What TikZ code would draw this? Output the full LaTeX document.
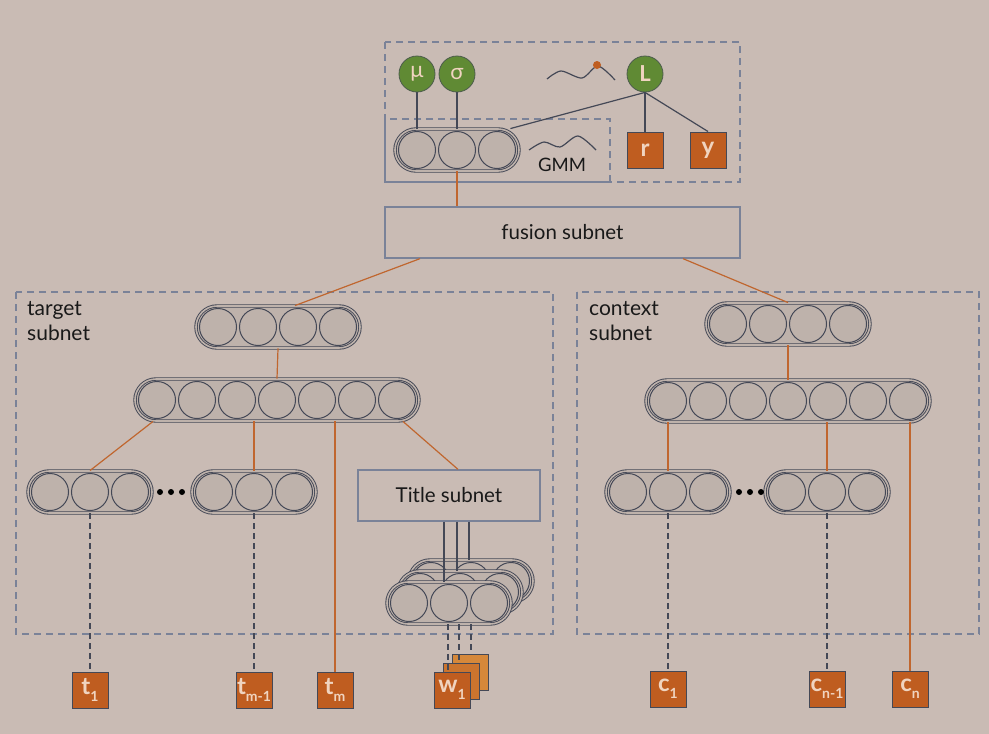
\documentclass[tikz,border=0pt]{standalone}
\usepackage{fontspec}
\setmainfont{Lato}
\usetikzlibrary{shapes.misc}

\definecolor{bg}{RGB}{201,187,180}
\definecolor{unitfill}{RGB}{190,178,171}
\definecolor{wire}{RGB}{68,72,86}
\definecolor{frame}{RGB}{122,130,152}
\definecolor{rust}{RGB}{191,93,32}
\definecolor{rustmid}{RGB}{203,116,46}
\definecolor{rustlight}{RGB}{214,136,58}
\definecolor{leaf}{RGB}{96,138,52}
\definecolor{peach}{RGB}{240,212,192}

% a layer of units: name, x, y, number of units
\newcommand{\layer}[4]{%
  \node[capsule, minimum width=#4*40+4] (#1) at (#2,#3) {};
  \foreach \k in {1,...,#4}
    \node[unit] (#1-\k) at ({#2+(\k-(#4+1)/2)*40},#3) {};
}
\newcommand{\lowidx}[1]{\raisebox{-0.55ex}{\fontsize{14}{14}\selectfont #1}}

\begin{document}
\begin{tikzpicture}[x=1pt, y=-1pt,
  capsule/.style={rounded rectangle, draw=wire, line width=0.9pt, double=unitfill,
    double distance=1.6pt, fill=unitfill, minimum height=42, inner sep=0pt},
  unit/.style={circle, draw=wire, line width=1pt, fill=unitfill, minimum size=37, inner sep=0pt},
  outbox/.style={rectangle, draw=wire, line width=1pt, fill=rust, minimum size=36,
    inner sep=0pt, text=peach, font=\fontsize{24}{24}\selectfont\bfseries},
  gauss/.style={circle, draw=wire!70!leaf, line width=0.8pt, fill=leaf, minimum size=36,
    inner sep=0pt, text=peach, font=\fontsize{22}{22}\selectfont},
  block/.style={rectangle, draw=frame, line width=1.3pt, fill=bg, inner sep=0pt,
    text=black!90, font=\fontsize{20.5}{20.5}\selectfont},
  group/.style={draw=frame, line width=1.3pt, dash pattern=on 7pt off 5pt},
  tag/.style={align=left, inner sep=0pt, text=black!90, font=\fontsize{21}{25}\selectfont},
  link/.style={draw=rust!90!bg, line width=1.2pt},
  tie/.style={draw=wire, line width=1.2pt},
  feed/.style={draw=wire, line width=1.2pt, dash pattern=on 6pt off 4pt}]

\fill[bg] (0,0) rectangle (989,734);
\useasboundingbox (0,0) rectangle (989,734);

% dashed groups
\draw[group] (385,42) rectangle (740,182);
\draw[group] (385,119) rectangle (610,182);
\draw[group] (16,292) rectangle (553,634);
\draw[group] (577,292) rectangle (979,634);

\node[tag, anchor=north west] (tgtlabel) at (27,301) {target\\subnet};
\node[tag, anchor=north west] (ctxlabel) at (589,301) {context\\subnet};

%% output of the model
\node[gauss] (mu) at (417,74) {μ};
\node[gauss] (sigma) at (457,74) {σ};
\node[gauss, font=\fontsize{22}{22}\selectfont\bfseries] (lik) at (645,74) {L};
\layer{gmm}{457}{150}{3}
\node[outbox] (r) at (645,150) {r};
\node[outbox] (y) at (708,150) {y};

\draw[tie] (mu) -- (mu |- gmm.north);
\draw[tie] (sigma) -- (sigma |- gmm.north);
\draw[tie] (lik.south) -- (gmm.north -| gmm-3.north east);
\draw[tie] (lik.south) -- (r.north);
\draw[tie] (lik.south) -- (y.north);

\draw[tie] plot[smooth] coordinates {(547,79) (561,71) (582,78) (598,66) (615,80)};
\node[circle, fill=rust, inner sep=0pt, minimum size=8] (peak) at (597,65) {};
\draw[tie] plot[smooth] coordinates {(529,150) (544,142) (560,147) (578,136) (596,150)};
\node[text=black!90, font=\fontsize{18.5}{18.5}\selectfont] (gmmlabel) at (562,165) {GMM};

\node[block, minimum width=355, minimum height=51] (fusion) at (562.5,232.5) {fusion subnet};
\draw[link] (gmm.south) -- (gmm.south |- fusion.north);

%% target subnet
\layer{ta}{278}{327}{4}
\layer{tb}{277}{400}{7}
\layer{tc}{90}{492}{3}
\layer{td}{254}{492}{3}
\foreach \d in {160,171,182} \fill (\d,492) circle (3);
\node[block, minimum width=182, minimum height=51] (title) at (449,495.5) {Title subnet};

\layer{wc}{471}{581}{3}
\layer{wb}{460}{592}{3}
\layer{wa}{449}{603}{3}

\node[outbox] (t1) at (90,690) {t\lowidx{1}};
\node[outbox] (tm1) at (254,690) {t\lowidx{m-1}};
\node[outbox] (tm) at (335,690) {t\lowidx{m}};
\node[outbox, fill=rustlight] (w3) at (470,672) {};
\node[outbox, fill=rustmid] (w2) at (461,681) {};
\node[outbox] (w1) at (452,690) {w\lowidx{1}};

\draw[link] ([xshift=-142.5]fusion.south) -- ([xshift=17]ta.north);
\draw[link] (ta.south) -- (tb.north);
\draw[link] ([xshift=-124]tb.south) -- (tc.north);
\draw[link] (td.north |- tb.south) -- (td.north);
\draw[link] (tm.north |- tb.south) -- (tm.north);
\draw[link] ([xshift=126]tb.south) -- ([xshift=9]title.north);

\draw[tie] ([xshift=-5]title.south) -- ([xshift=-5]title.south |- wa.north);
\draw[tie] ([xshift=8]title.south) -- ([xshift=8]title.south |- wb.north);
\draw[tie] ([xshift=20]title.south) -- ([xshift=20]title.south |- wc.north);

\draw[feed] (tc.south) -- (t1.north);
\draw[feed] (td.south) -- (tm1.north);
\draw[feed] (wa.south -| 448,0) -- (w1.north -| 448,0);
\draw[feed] (wa.south -| 459,0) -- (w2.north -| 459,0);
\draw[feed] (wa.south -| 471,0) -- (w3.north -| 471,0);

%% context subnet
\layer{ca}{788}{324}{4}
\layer{cb}{788}{401}{7}
\layer{cc}{668}{492}{3}
\layer{cd}{827}{492}{3}
\foreach \d in {739,750,761} \fill (\d,492) circle (3);

\node[outbox] (c1) at (668,689) {c\lowidx{1}};
\node[outbox] (cn1) at (827,689) {c\lowidx{n-1}};
\node[outbox] (cn) at (910,689) {c\lowidx{n}};

\draw[link] ([xshift=120.5]fusion.south) -- (ca.north);
\draw[link] (ca.south) -- (cb.north);
\draw[link] (cc.north |- cb.south) -- (cc.north);
\draw[link] (cd.north |- cb.south) -- (cd.north);
\draw[link] (cn.north |- cb.south) -- (cn.north);

\draw[feed] (cc.south) -- (c1.north);
\draw[feed] (cd.south) -- (cn1.north);

\end{tikzpicture}
\end{document}
